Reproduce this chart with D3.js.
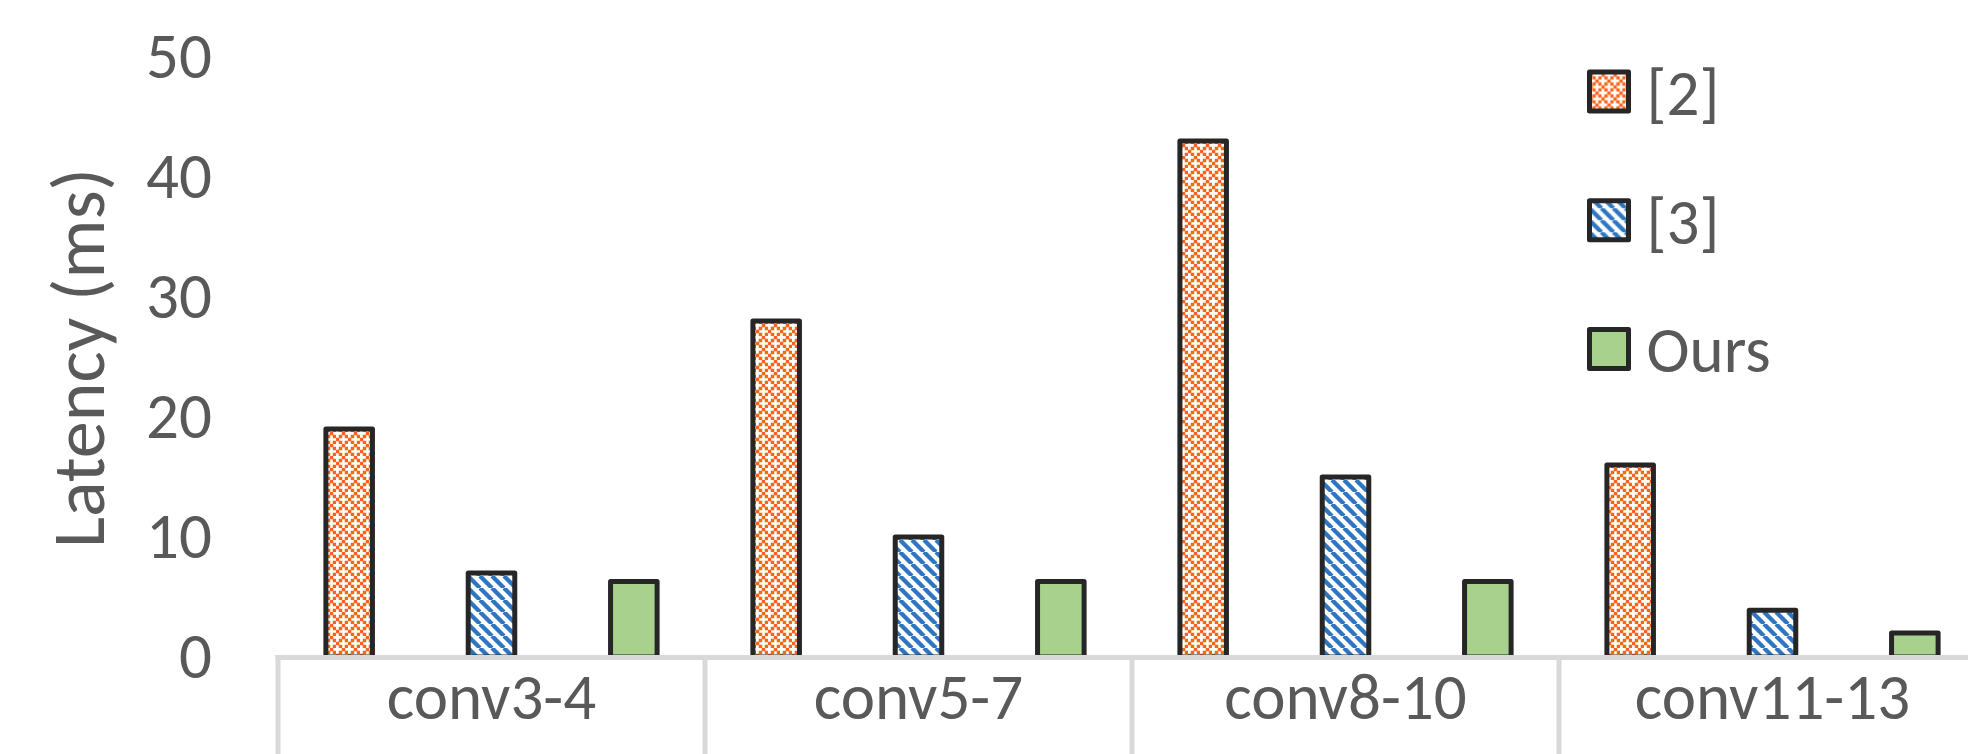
<!DOCTYPE html>
<html>
<head>
<meta charset="utf-8">
<script src="https://cdn.jsdelivr.net/npm/d3@7"></script>
<style>
  html, body { margin: 0; padding: 0; background: #ffffff; overflow: hidden; }
  text { font-family: Carlito, Lato, "Open Sans", sans-serif; fill: #595959; }
</style>
</head>
<body>
<svg id="chart" width="1968" height="754"></svg>
<script>
// Layer groups and measured latency per method (ms)
const categories = ["conv3-4", "conv5-7", "conv8-10", "conv11-13"];
const seriesNames = ["[2]", "[3]", "Ours"];
const latencyRef2 = [19, 28, 43, 16];
const latencyRef3 = [7, 10, 15, 3.9];
const latencyOurs = [6.3, 6.3, 6.3, 2];
const yTicks = [0, 10, 20, 30, 40, 50];
const yTitle = "Latency (ms)";

const seriesValues = [latencyRef2, latencyRef3, latencyOurs];
const seriesFill = ["url(#dotDiamond)", "url(#wideDownDiag)", "#A9D18E"];

const svg = d3.select("#chart");
const W = 1968, H = 754;
const labelSize = 65;

const x = d3.scaleBand().domain(categories).range([278, 1986]).padding(0);
const xSeries = d3.scaleBand().domain(seriesNames).range([0, x.bandwidth()])
  .paddingInner(0.673).paddingOuter(0.3365);
const y = d3.scaleLinear().domain([0, 50]).range([657, 57]);

// Fill patterns: orange dotted diamond, blue wide downward diagonal
const defs = svg.append("defs");
const orange = "#F9641A";
const blue = "#2E76C2";

const p1 = defs.append("pattern").attr("id", "dotDiamond")
  .attr("patternUnits", "userSpaceOnUse").attr("width", 12).attr("height", 12);
p1.append("rect").attr("width", 12).attr("height", 12).attr("fill", "#ffffff");
[[0, 2], [2, 0], [1, 1], [3, 3], [1, 3], [3, 1]].forEach(([cx, cy]) => {
  p1.append("rect").attr("x", cx * 3 - 0.25).attr("y", cy * 3 - 0.25)
    .attr("width", 3.5).attr("height", 3.5).attr("fill", orange);
});

const p2 = defs.append("pattern").attr("id", "wideDownDiag")
  .attr("patternUnits", "userSpaceOnUse").attr("width", 12).attr("height", 12);
p2.append("rect").attr("width", 12).attr("height", 12).attr("fill", "#ffffff");
p2.append("path").attr("d", "M-12,0L0,12M0,0L12,12M12,0L24,12M-6,-6L18,18")
  .attr("stroke", blue).attr("stroke-width", 4.3).attr("fill", "none");

// Bars
const rows = [];
categories.forEach((c, ci) => {
  seriesNames.forEach((s, si) => rows.push({ c, s, si, v: seriesValues[si][ci] }));
});

svg.append("g").selectAll("rect").data(rows).join("rect")
  .attr("x", d => x(d.c) + xSeries(d.s))
  .attr("y", d => y(d.v))
  .attr("width", xSeries.bandwidth())
  .attr("height", d => y(0) - y(d.v))
  .attr("fill", d => seriesFill[d.si])
  .attr("stroke", "#262626")
  .attr("stroke-width", 5)
  .attr("stroke-linejoin", "round");

// Category axis: baseline, separators and labels
const axisG = svg.append("g");
axisG.append("line")
  .attr("x1", x(categories[0]) - 2.5).attr("x2", W)
  .attr("y1", y(0) + 0.5).attr("y2", y(0) + 0.5)
  .attr("stroke", "#D9D9D9").attr("stroke-width", 5);
axisG.selectAll("line.sep").data(categories).join("line")
  .attr("class", "sep")
  .attr("x1", d => x(d)).attr("x2", d => x(d))
  .attr("y1", y(0) - 2).attr("y2", H)
  .attr("stroke", "#D9D9D9").attr("stroke-width", 5);
axisG.selectAll("text").data(categories).join("text")
  .attr("x", d => x(d) + x.bandwidth() / 2)
  .attr("y", 696)
  .attr("dy", "0.35em")
  .attr("text-anchor", "middle")
  .attr("font-size", labelSize)
  .text(d => d);

// Value axis labels
svg.append("g").selectAll("text").data(yTicks).join("text")
  .attr("x", 212)
  .attr("y", d => y(d) - 2)
  .attr("dy", "0.35em")
  .attr("text-anchor", "end")
  .attr("font-size", labelSize)
  .text(d => d);

svg.append("text")
  .attr("transform", "translate(77,358) rotate(-90)")
  .attr("dy", "0.36em")
  .attr("text-anchor", "middle")
  .attr("font-size", 74)
  .text(yTitle);

// Legend
const legendY = d3.scalePoint().domain(seriesNames).range([91.5, 349]);
const lg = svg.append("g").selectAll("g").data(seriesNames).join("g")
  .attr("transform", d => `translate(1589.5,${legendY(d)})`);
lg.append("rect")
  .attr("x", 0).attr("y", -19.5).attr("width", 39).attr("height", 39)
  .attr("fill", (d, i) => seriesFill[i])
  .attr("stroke", "#262626").attr("stroke-width", 5)
  .attr("stroke-linejoin", "round");
lg.append("text")
  .attr("x", 57).attr("y", 0).attr("dy", "0.36em")
  .attr("font-size", labelSize)
  .text(d => d);
</script>
</body>
</html>
